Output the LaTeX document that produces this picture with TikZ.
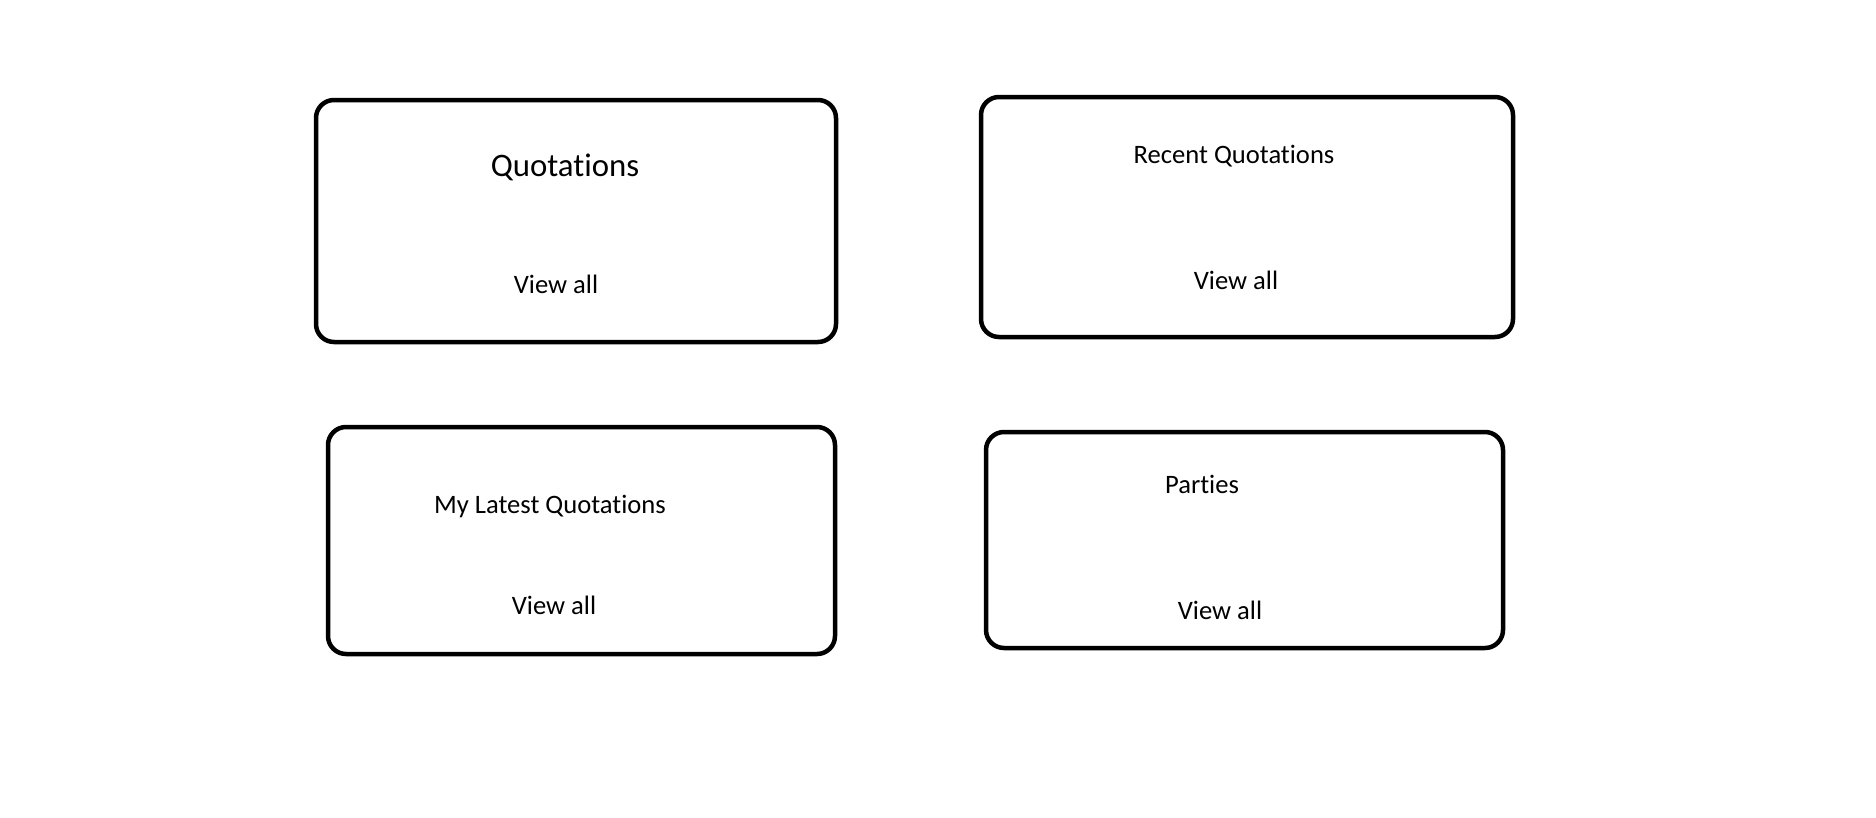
\documentclass[tikz,border=0pt]{standalone}
\usepackage{fontspec}
\setmainfont{Carlito}[Ligatures={NoCommon}]
\begin{document}
\begin{tikzpicture}[x=1pt,y=-1pt,
  card/.style={draw=black,line width=4.5pt,rounded corners=18pt,inner sep=0pt,fill=none},
  lbl/.style={inner sep=0pt,font=\fontsize{26.6}{30}\selectfont},
  biglbl/.style={inner sep=0pt,font=\fontsize{32.8}{36}\selectfont}]
\useasboundingbox[fill=white] (0,0) rectangle (1876,817);
\node[card,minimum width=520pt,minimum height=242pt] (b1) at (576,221) {};
\node[card,minimum width=532pt,minimum height=240pt] (b2) at (1247,217) {};
\node[card,minimum width=507pt,minimum height=227pt] (b3) at (581.5,540.5) {};
\node[card,minimum width=517pt,minimum height=216pt] (b4) at (1244.5,540) {};
\node[biglbl] (t1) at (565,167) {Quotations};
\node[lbl] (v1) at (556,284) {View all};
\node[lbl] (t2) at (1234,156) {Recent Quotations};
\node[lbl] (v2) at (1236,280) {View all};
\node[lbl] (t3) at (550,506) {My Latest Quotations};
\node[lbl] (v3) at (554,605) {View all};
\node[lbl] (t4) at (1202,484) {Parties};
\node[lbl] (v4) at (1220,610) {View all};
\end{tikzpicture}
\end{document}
